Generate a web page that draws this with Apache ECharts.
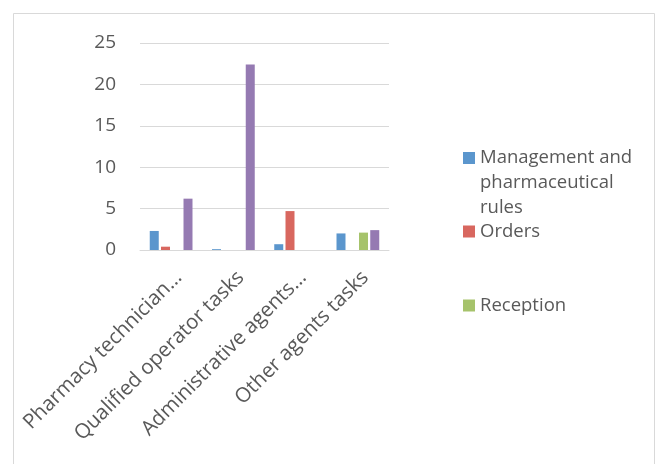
<!DOCTYPE html>
<html>
<head>
<meta charset="utf-8">
<script src="https://cdn.jsdelivr.net/npm/echarts@6/dist/echarts.min.js"></script>
<style>
  html, body { margin: 0; padding: 0; background: #fff; }
  #chartDom { width: 655px; height: 464px; }
</style>
</head>
<body>
<div id="chartDom"></div>
<script>
const categories = ['Pharmacy technician…', 'Qualified operator tasks', 'Administrative agents…', 'Other agents tasks'];
const managementRules = [2.3, 0.1, 0.7, 2.0];
const orders = [0.4, 0, 4.7, 0];
const reception = [0, 0, 0, 2.1];
const otherTasks = [6.2, 22.4, 0, 2.4];
const yTicks = [0, 5, 10, 15, 20, 25];

const textColor = '#595959';
const fontFamily = '"Open Sans", "Liberation Sans", sans-serif';

const barSeries = (name, data, color) => ({
  name: name,
  type: 'bar',
  data: data,
  barWidth: 9,
  barGap: '25%',
  itemStyle: { color: color }
});

const legendBase = {
  orient: 'vertical',
  left: 463,
  padding: 0,
  itemWidth: 12,
  itemHeight: 12,
  icon: 'rect',
  selectedMode: false,
  textStyle: { color: textColor, fontSize: 18.5, fontFamily: fontFamily, lineHeight: 25 }
};

const option = {
  animation: false,
  backgroundColor: '#fff',
  graphic: [{
    type: 'rect',
    shape: { x: 13.5, y: 13.5, width: 641, height: 500 },
    style: { fill: 'none', stroke: '#d9d9d9', lineWidth: 1 },
    silent: true
  }],
  grid: { left: 140, right: 266, top: 43, bottom: 214 },
  legend: [
    // two empty lines first so the icon sits beside the first text line
    Object.assign({}, legendBase, {
      top: 95.5,
      data: ['Management and pharmaceutical rules'],
      formatter: () => '\n\nManagement and\npharmaceutical\nrules'
    }),
    Object.assign({}, legendBase, { top: 219, data: ['Orders'] }),
    Object.assign({}, legendBase, { top: 293, data: ['Reception'] })
  ],
  xAxis: {
    type: 'category',
    data: categories,
    axisLine: { lineStyle: { color: '#d9d9d9', width: 1 } },
    axisTick: { show: false },
    axisLabel: {
      interval: 0,
      rotate: 45,
      margin: 17,
      verticalAlign: 'top',
      color: textColor,
      fontSize: 20.5,
      fontFamily: fontFamily
    }
  },
  yAxis: {
    type: 'value',
    min: yTicks[0],
    max: yTicks[yTicks.length - 1],
    interval: 5,
    axisLine: { show: false },
    axisTick: { show: false },
    splitLine: { lineStyle: { color: '#d9d9d9', width: 1 } },
    axisLabel: {
      margin: 24,
      color: textColor,
      fontSize: 19,
      fontFamily: fontFamily
    }
  },
  series: [
    barSeries('Management and pharmaceutical rules', managementRules, '#5b96cd'),
    barSeries('Orders', orders, '#d8675f'),
    barSeries('Reception', reception, '#a6c36b'),
    barSeries('Other', otherTasks, '#957ab2')
  ]
};

const myChart = echarts.init(document.getElementById('chartDom'));
myChart.setOption(option);
</script>
</body>
</html>
